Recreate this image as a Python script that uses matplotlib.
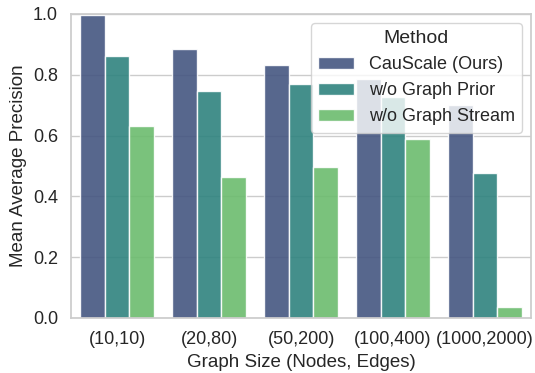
import matplotlib
matplotlib.use("Agg")
import matplotlib.pyplot as plt
import seaborn as sns
import pandas as pd

categories = ["(10,10)", "(20,80)", "(50,200)", "(100,400)", "(1000,2000)"]
methods = ["CauScale (Ours)", "w/o Graph Prior", "w/o Graph Stream"]
causcale = [0.997, 0.885, 0.833, 0.786, 0.702]
no_prior = [0.862, 0.748, 0.770, 0.728, 0.477]
no_stream = [0.633, 0.463, 0.497, 0.590, 0.037]

rows = []
for m, vals in zip(methods, [causcale, no_prior, no_stream]):
    for c, v in zip(categories, vals):
        rows.append({"Graph Size (Nodes, Edges)": c, "Mean Average Precision": v, "Method": m})
df = pd.DataFrame(rows)

sns.set_theme(style="whitegrid")
plt.rcParams['font.family'] = ['Liberation Sans', 'DejaVu Sans']

fig = plt.figure(figsize=(5.35, 3.73), dpi=100)
ax = fig.add_axes([0.133, 0.1475, 0.8595, 0.815])
sns.barplot(data=df, x="Graph Size (Nodes, Edges)", y="Mean Average Precision",
            hue="Method", palette="viridis", alpha=0.9, ax=ax, errorbar=None)
ax.set_ylim(0, 1.0)
ax.set_xlabel("Graph Size (Nodes, Edges)", fontsize=13.5)
ax.set_ylabel("Mean Average Precision", fontsize=13.5)
ax.tick_params(axis='both', labelsize=13)
for s in ax.spines.values():
    s.set_color("#cccccc")
leg = ax.legend(title="Method", loc="upper right", fontsize=13, title_fontsize=14)
fig.savefig("out.png", dpi=100)
